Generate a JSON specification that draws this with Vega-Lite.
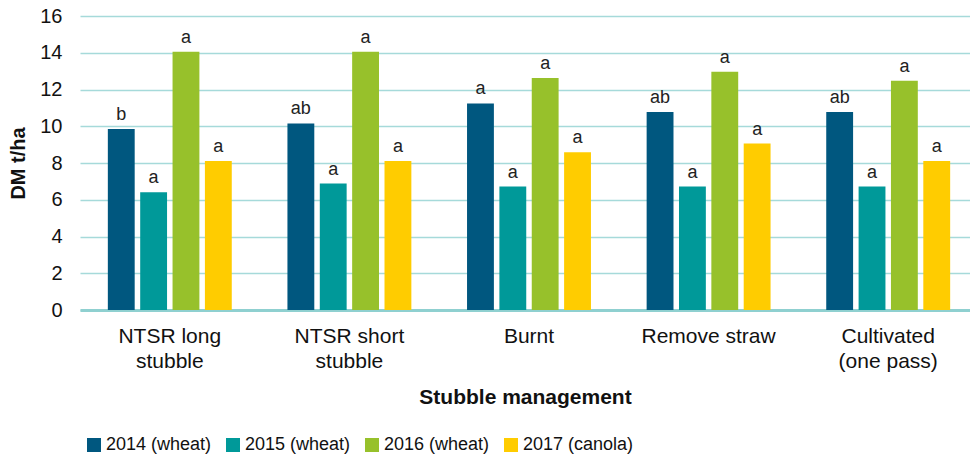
{
  "$schema": "https://vega.github.io/schema/vega-lite/v6.json",
  "autosize": "none",
  "width": 898,
  "height": 294,
  "padding": {"left": 80, "top": 16, "right": 0, "bottom": 145},
  "background": "white",
  "config": {
    "font": "Liberation Sans",
    "view": {"stroke": null}
  },
  "data": {
    "values": [
      {"management": "NTSR long stubble", "season": "2014 (wheat)", "dm": 9.85, "letter": "b"},
      {"management": "NTSR long stubble", "season": "2015 (wheat)", "dm": 6.41, "letter": "a"},
      {"management": "NTSR long stubble", "season": "2016 (wheat)", "dm": 14.05, "letter": "a"},
      {"management": "NTSR long stubble", "season": "2017 (canola)", "dm": 8.11, "letter": "a"},
      {"management": "NTSR short stubble", "season": "2014 (wheat)", "dm": 10.15, "letter": "ab"},
      {"management": "NTSR short stubble", "season": "2015 (wheat)", "dm": 6.88, "letter": "a"},
      {"management": "NTSR short stubble", "season": "2016 (wheat)", "dm": 14.05, "letter": "a"},
      {"management": "NTSR short stubble", "season": "2017 (canola)", "dm": 8.11, "letter": "a"},
      {"management": "Burnt", "season": "2014 (wheat)", "dm": 11.24, "letter": "a"},
      {"management": "Burnt", "season": "2015 (wheat)", "dm": 6.72, "letter": "a"},
      {"management": "Burnt", "season": "2016 (wheat)", "dm": 12.62, "letter": "a"},
      {"management": "Burnt", "season": "2017 (canola)", "dm": 8.59, "letter": "a"},
      {"management": "Remove straw", "season": "2014 (wheat)", "dm": 10.77, "letter": "ab"},
      {"management": "Remove straw", "season": "2015 (wheat)", "dm": 6.72, "letter": "a"},
      {"management": "Remove straw", "season": "2016 (wheat)", "dm": 12.96, "letter": "a"},
      {"management": "Remove straw", "season": "2017 (canola)", "dm": 9.06, "letter": "a"},
      {"management": "Cultivated (one pass)", "season": "2014 (wheat)", "dm": 10.77, "letter": "ab"},
      {"management": "Cultivated (one pass)", "season": "2015 (wheat)", "dm": 6.72, "letter": "a"},
      {"management": "Cultivated (one pass)", "season": "2016 (wheat)", "dm": 12.47, "letter": "a"},
      {"management": "Cultivated (one pass)", "season": "2017 (canola)", "dm": 8.11, "letter": "a"}
    ]
  },
  "encoding": {
    "x": {
      "field": "management",
      "type": "nominal",
      "sort": null,
      "scale": {"paddingInner": 0.31, "paddingOuter": 0.155},
      "axis": {
        "title": "Stubble management",
        "titleFontSize": 21,
        "titleFontWeight": "bold",
        "titleColor": "#111",
        "titleX": 445,
        "titleY": 87,
        "titleBaseline": "middle",
        "labelAngle": 0,
        "labelFontSize": 21,
        "labelColor": "#111",
        "labelPadding": 15,
        "labelBaseline": "top",
        "labelLineHeight": 25,
        "labelExpr": "datum.label == 'NTSR long stubble' ? ['NTSR long', 'stubble'] : datum.label == 'NTSR short stubble' ? ['NTSR short', 'stubble'] : datum.label == 'Cultivated (one pass)' ? ['Cultivated', '(one pass)'] : datum.label",
        "ticks": false,
        "domainColor": "#8fd0d0",
        "domainWidth": 3
      }
    },
    "xOffset": {
      "field": "season",
      "type": "nominal",
      "scale": {"paddingInner": 0.17, "paddingOuter": 0}
    },
    "y": {
      "field": "dm",
      "type": "quantitative",
      "scale": {"domain": [0, 16]},
      "axis": {
        "title": "DM t/ha",
        "titleFontSize": 20,
        "titleFontWeight": "bold",
        "titleColor": "#111",
        "titleX": -62,
        "titleY": 147,
        "titleAngle": -90,
        "titleAlign": "center",
        "titleBaseline": "middle",
        "values": [0, 2, 4, 6, 8, 10, 12, 14, 16],
        "labelFontSize": 20,
        "labelColor": "#111",
        "labelPadding": 18,
        "ticks": false,
        "domain": false,
        "gridColor": "#a6dada",
        "gridWidth": 1.5
      }
    }
  },
  "layer": [
    {
      "mark": {"type": "bar"},
      "encoding": {
        "color": {
          "field": "season",
          "type": "nominal",
          "scale": {
            "domain": ["2014 (wheat)", "2015 (wheat)", "2016 (wheat)", "2017 (canola)"],
            "range": ["#00577f", "#009999", "#97c12b", "#ffcc00"]
          },
          "legend": {
            "title": null,
            "orient": "none",
            "direction": "horizontal",
            "columns": 4,
            "legendX": 5,
            "legendY": 420,
            "symbolType": "square",
            "symbolSize": 196,
            "symbolStrokeWidth": 0,
            "symbolOpacity": 1,
            "labelFontSize": 18,
            "labelColor": "#111",
            "labelOffset": 3,
            "columnPadding": 12,
            "padding": 0
          }
        }
      }
    },
    {
      "mark": {"type": "text", "baseline": "alphabetic", "dy": -9, "fontSize": 18, "color": "#222"},
      "encoding": {
        "text": {"field": "letter"}
      }
    }
  ]
}
